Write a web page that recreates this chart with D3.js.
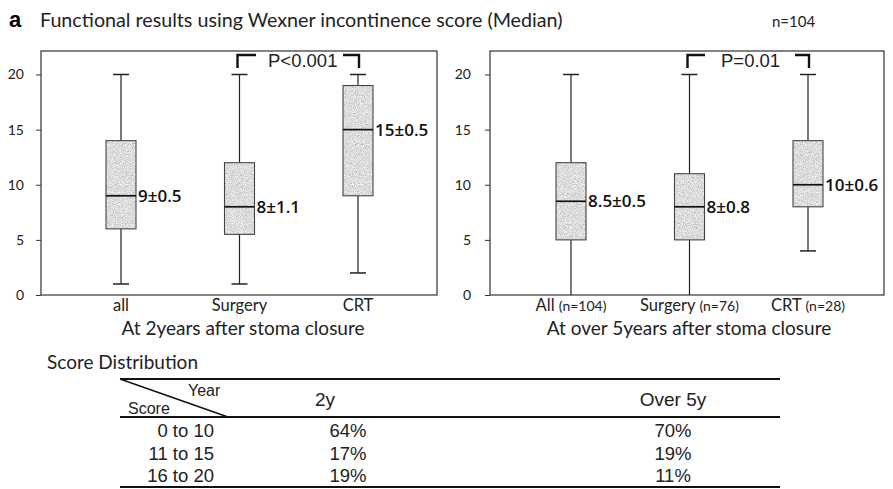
<!DOCTYPE html>
<html>
<head>
<meta charset="utf-8">
<script src="https://cdn.jsdelivr.net/npm/d3@7"></script>
<style>
  html, body { margin: 0; padding: 0; background: #fff; }
  svg { display: block; }
</style>
</head>
<body>
<svg id="chart" width="893" height="489"></svg>
<script>
// ---- Data ----
const groups2y   = ["all", "Surgery", "CRT"];
const min2y      = [1, 1, 2];
const q1_2y      = [6, 5.5, 9];
const median2y   = [9, 8, 15];
const q3_2y      = [14, 12, 19];
const max2y      = [20, 20, 20];
const medLabel2y = ["9±0.5", "8±1.1", "15±0.5"];

const groups5y   = ["All", "Surgery", "CRT"];
const groupN5y   = ["(n=104)", "(n=76)", "(n=28)"];
const min5y      = [0, 0, 4];
const q1_5y      = [5, 5, 8];
const median5y   = [8.5, 8, 10];
const q3_5y      = [12, 11, 14];
const max5y      = [20, 20, 20];
const medLabel5y = ["8.5±0.5", "8±0.8", "10±0.6"];

const yTicks = [0, 5, 10, 15, 20];

const scoreRanges = ["0 to 10", "11 to 15", "16 to 20"];
const pct2y       = ["64%", "17%", "19%"];
const pctOver5y   = ["70%", "19%", "11%"];

// ---- Setup ----
const svg = d3.select("#chart");
const sans = "Lato, 'Open Sans', sans-serif";
const open = "'Open Sans', Lato, sans-serif";
const arial = "'Liberation Sans', Arial, sans-serif";

// grainy grey fill for the boxes
const defs = svg.append("defs");
const grain = defs.append("filter").attr("id", "grain")
  .attr("x", 0).attr("y", 0).attr("width", "100%").attr("height", "100%");
grain.append("feTurbulence").attr("type", "fractalNoise")
  .attr("baseFrequency", 1.1).attr("numOctaves", 2).attr("seed", 7).attr("result", "noise");
grain.append("feColorMatrix").attr("in", "noise").attr("type", "matrix")
  .attr("values", "0.9 0 0 0 0.27  0.9 0 0 0 0.27  0.9 0 0 0 0.27  0 0 0 0 1")
  .attr("result", "grey");
grain.append("feComposite").attr("in", "grey").attr("in2", "SourceGraphic").attr("operator", "in");

const y = d3.scaleLinear().domain([0, 20]).range([295, 74.5]);

// Title
svg.append("text").attr("x", 9).attr("y", 27)
  .attr("font-family", arial).attr("font-weight", "bold").attr("font-size", 22)
  .text("a");
svg.append("text").attr("x", 40).attr("y", 27)
  .attr("font-family", sans).attr("font-size", 19.7).attr("fill", "#222")
  .text("Functional results using Wexner incontinence score (Median)");
svg.append("text").attr("x", 772).attr("y", 27)
  .attr("font-family", sans).attr("font-size", 15).attr("fill", "#222")
  .text("n=104");

function drawPanel(opts) {
  const g = svg.append("g");
  const { left, right, top, groups, mins, q1s, meds, q3s, maxs, labels, xRange } = opts;
  const x = d3.scalePoint().domain(groups).range(xRange);

  // frame
  g.append("rect").attr("x", left).attr("y", top)
    .attr("width", right - left).attr("height", y(0) - top)
    .attr("fill", "none").attr("stroke", "#333").attr("stroke-width", 1.2);

  // y axis
  const yAxis = d3.axisLeft(y).tickValues(yTicks).tickSize(5).tickPadding(opts.tickPad);
  const ga = g.append("g").attr("transform", `translate(${left},0)`).call(yAxis);
  ga.select(".domain").remove();
  ga.selectAll("line").attr("stroke", "#333");
  ga.selectAll("text").attr("font-family", sans).attr("font-size", 14).attr("fill", "#222");

  // boxes
  const bw = 30, cw = 16;
  groups.forEach((k, i) => {
    const cx = x(k);
    g.append("line").attr("x1", cx).attr("x2", cx).attr("y1", y(maxs[i])).attr("y2", y(q3s[i]))
      .attr("stroke", "#222").attr("stroke-width", 1.2);
    g.append("line").attr("x1", cx).attr("x2", cx).attr("y1", y(q1s[i])).attr("y2", y(mins[i]))
      .attr("stroke", "#222").attr("stroke-width", 1.2);
    [maxs[i], mins[i]].forEach(v => {
      if (v > 0) g.append("line").attr("x1", cx - cw / 2).attr("x2", cx + cw / 2)
        .attr("y1", y(v)).attr("y2", y(v)).attr("stroke", "#222").attr("stroke-width", 1.5);
    });
    g.append("rect").attr("x", cx - bw / 2).attr("y", y(q3s[i]))
      .attr("width", bw).attr("height", y(q1s[i]) - y(q3s[i]))
      .attr("fill", "#000").attr("filter", "url(#grain)");
    g.append("rect").attr("x", cx - bw / 2).attr("y", y(q3s[i]))
      .attr("width", bw).attr("height", y(q1s[i]) - y(q3s[i]))
      .attr("fill", "none").attr("stroke", "#444").attr("stroke-width", 1.1);
    g.append("line").attr("x1", cx - bw / 2).attr("x2", cx + bw / 2)
      .attr("y1", y(meds[i])).attr("y2", y(meds[i]))
      .attr("stroke", "#111").attr("stroke-width", 1.7);
    g.append("text").attr("x", cx + bw / 2 + 2).attr("y", y(meds[i]))
      .attr("dy", "0.35em").attr("font-family", open).attr("font-weight", 600)
      .attr("font-size", 17).attr("fill", "#111").text(labels[i]);
  });

  // significance bracket between Surgery and CRT
  const b = opts.bracket;
  const bx1 = x(groups[1]) - 2, bx2 = x(groups[2]) + 1, by = 55, byl = 68;
  g.append("path")
    .attr("d", `M${bx1},${byl}V${by}H${b.leftEnd}M${b.rightStart},${by}H${bx2}V${byl}`)
    .attr("fill", "none").attr("stroke", "#111").attr("stroke-width", 2.4);
  g.append("text").attr("x", b.textX).attr("y", by + 12)
    .attr("font-family", arial).attr("font-size", 18.5).attr("fill", "#222")
    .text(b.text);

  return { g, x };
}

// Left panel: 2 years
const p1 = drawPanel({
  left: 41, right: 437, top: 51, groups: groups2y,
  mins: min2y, q1s: q1_2y, meds: median2y, q3s: q3_2y, maxs: max2y, labels: medLabel2y,
  xRange: [121, 358], tickPad: 12,
  bracket: { text: "P<0.001", textX: 268, leftEnd: 256, rightStart: 343 }
});
p1.g.selectAll(".xlab").data(groups2y).join("text")
  .attr("x", d => p1.x(d)).attr("y", 311).attr("text-anchor", "middle")
  .attr("font-family", sans).attr("font-size", 16.5).attr("fill", "#222").text(d => d);
p1.g.append("text").attr("x", 243).attr("y", 335).attr("text-anchor", "middle")
  .attr("font-family", sans).attr("font-size", 19).attr("fill", "#222")
  .text("At 2years after stoma closure");

// Right panel: over 5 years
const p2 = drawPanel({
  left: 490, right: 884, top: 51, groups: groups5y,
  mins: min5y, q1s: q1_5y, meds: median5y, q3s: q3_5y, maxs: max5y, labels: medLabel5y,
  xRange: [571, 808], tickPad: 14,
  bracket: { text: "P=0.01", textX: 721, leftEnd: 705, rightStart: 795 }
});
groups5y.forEach((k, i) => {
  const t = p2.g.append("text").attr("x", p2.x(k)).attr("y", 311).attr("text-anchor", "middle")
    .attr("font-family", sans).attr("font-size", 16.5).attr("fill", "#222");
  t.append("tspan").text(k + " ");
  t.append("tspan").attr("font-size", 14).text(groupN5y[i]);
});
p2.g.append("text").attr("x", 689).attr("y", 335).attr("text-anchor", "middle")
  .attr("font-family", sans).attr("font-size", 19).attr("fill", "#222")
  .text("At over 5years after stoma closure");

// ---- Score distribution table ----
svg.append("text").attr("x", 47).attr("y", 369)
  .attr("font-family", sans).attr("font-size", 19).attr("fill", "#222")
  .text("Score Distribution");

const tLeft = 120, tRight = 780, tTop = 379, tHead = 417, tBottom = 487;
const rule = (yy, w) => svg.append("line").attr("x1", tLeft).attr("x2", tRight)
  .attr("y1", yy).attr("y2", yy).attr("stroke", "#111").attr("stroke-width", w);
rule(tTop, 2); rule(tHead, 2); rule(tBottom, 2);
svg.append("line").attr("x1", tLeft).attr("y1", tTop).attr("x2", 228).attr("y2", tHead)
  .attr("stroke", "#111").attr("stroke-width", 1.5);
svg.append("text").attr("x", 188).attr("y", 396)
  .attr("font-family", arial).attr("font-size", 16).attr("fill", "#222").text("Year");
svg.append("text").attr("x", 128).attr("y", 414)
  .attr("font-family", arial).attr("font-size", 16).attr("fill", "#222").text("Score");
svg.append("text").attr("x", 325).attr("y", 406).attr("text-anchor", "middle")
  .attr("font-family", arial).attr("font-size", 19).attr("fill", "#222").text("2y");
svg.append("text").attr("x", 673).attr("y", 406).attr("text-anchor", "middle")
  .attr("font-family", arial).attr("font-size", 19).attr("fill", "#222").text("Over 5y");

const rowY = d3.scalePoint().domain(scoreRanges).range([431, 476]);
const tbl = svg.append("g").attr("font-family", arial).attr("font-size", 18.5).attr("fill", "#222");
tbl.selectAll(".rl").data(scoreRanges).join("text")
  .attr("x", 214).attr("y", d => rowY(d)).attr("dy", "0.35em").attr("text-anchor", "end")
  .text(d => d);
tbl.selectAll(".c1").data(pct2y).join("text")
  .attr("x", 348).attr("y", (d, i) => rowY(scoreRanges[i])).attr("dy", "0.35em")
  .attr("text-anchor", "middle").text(d => d);
tbl.selectAll(".c2").data(pctOver5y).join("text")
  .attr("x", 673).attr("y", (d, i) => rowY(scoreRanges[i])).attr("dy", "0.35em")
  .attr("text-anchor", "middle").text(d => d);
</script>
</body>
</html>
